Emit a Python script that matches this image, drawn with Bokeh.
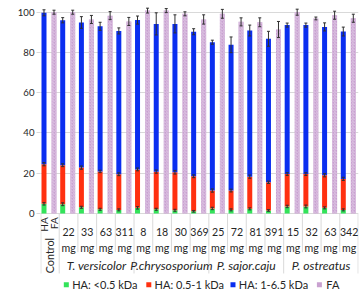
import numpy as np
from bokeh.plotting import figure
from bokeh.models import FixedTicker, Label
from bokeh.core.properties import value
from bokeh.embed import file_html
from bokeh.resources import INLINE

# ---------------- data ----------------
groups = ["Control", "22 mg", "33 mg", "63 mg", "311 mg", "8 mg", "18 mg", "30 mg", "369 mg",
          "25 mg", "72 mg", "81 mg", "391 mg", "15 mg", "32 mg", "63 mg", "342 mg"]
dose_numbers = ["22", "33", "63", "311", "8", "18", "30", "369",
                "25", "72", "81", "391", "15", "32", "63", "342"]
species = ["T. versicolor", "P.chrysosporium", "P. sajor.caju", "P. ostreatus"]
series_names = ["HA: <0.5 kDa", "HA: 0.5-1 kDa", "HA: 1-6.5 kDa", "FA"]

ha_lt05 = [4.8, 4.6, 3.1, 2.1, 1.8, 2.8, 2.1, 1.6, 1.1, 2.5, 1.8, 2.3, 1.5, 3.5, 3.5, 2.8, 1.8]
ha_05_1 = [19.7, 19.4, 19.7, 18.8, 17.7, 19.1, 18.7, 18.9, 17.4, 8.9, 9.6, 16.0, 14.0, 16.1, 16.1, 16.2, 15.4]
ha_1_65 = [75.2, 72.0, 72.1, 72.1, 71.2, 74.2, 73.4, 73.7, 71.8, 73.7, 72.4, 72.6, 71.3, 74.0, 74.0, 73.7, 73.2]
fa = [100.0, 100.0, 96.4, 98.3, 95.4, 100.8, 100.8, 99.2, 96.4, 99.2, 95.2, 95.0, 91.4, 100.0, 96.9, 98.5, 97.0]

err_lt05 = [0.6, 0.7, 0.5, 0.5, 0.5, 0.6, 0.5, 0.5, 0.4, 0.6, 0.5, 0.5, 0.4, 0.6, 0.7, 0.5, 0.5]
err_05_1 = [0.8, 0.7, 0.8, 0.6, 0.7, 0.7, 0.8, 0.9, 0.7, 0.8, 0.7, 0.8, 0.6, 0.7, 0.7, 0.8, 0.8]
err_ha = [1.5, 1.3, 2.9, 2.0, 1.5, 2.0, 5.5, 4.5, 1.5, 1.0, 3.9, 2.7, 3.7, 1.0, 1.0, 2.0, 2.2]
err_fa = [1.0, 1.0, 2.0, 2.0, 2.0, 1.2, 1.0, 1.0, 2.3, 2.2, 2.0, 2.2, 4.0, 1.5, 0.7, 2.0, 2.0]

y_ticks = [0, 20, 40, 60, 80, 100]

# ---------------- styles ----------------
C_GREEN = "#33e35a"
C_RED = "#ff3010"
C_BLUE = "#0a2ef0"
C_PURPLE = "#c9a1d0"
TXT = "#262626"
FONT = "Lato"
SEP = "#d9d9d9"

n = len(groups)
g = np.arange(n)
x_ha = g + 0.187
x_fa = g + 0.722
bw = 0.267

c1 = np.array(ha_lt05)
c2 = c1 + np.array(ha_05_1)
c3 = c2 + np.array(ha_1_65)

p = figure(width=359, height=290, x_range=(0, 17), y_range=(-38.25, 103.33),
           output_backend="svg", toolbar_location=None, x_axis_location=None,
           min_border_left=40, min_border_right=1, min_border_top=5, min_border_bottom=0)
p.outline_line_color = None
p.background_fill_color = "white"
p.border_fill_color = "white"

p.yaxis.ticker = FixedTicker(ticks=y_ticks)
p.yaxis.axis_line_color = None
p.yaxis.major_tick_out = 4
p.yaxis.major_tick_in = 0
p.yaxis.major_tick_line_color = SEP
p.yaxis.minor_tick_line_color = None
p.yaxis.major_label_standoff = 2
p.yaxis.major_label_text_font = FONT
p.yaxis.major_label_text_font_size = "9.6px"
p.yaxis.major_label_text_color = TXT
p.xgrid.visible = False
p.ygrid.grid_line_color = SEP
p.ygrid.grid_line_width = 1

# separators below the axis
sep_long = [0.02, 1, 5, 9, 13, 16.98]
sep_short = [2, 3, 4, 6, 7, 8, 10, 11, 12, 14, 15, 16]
p.segment(x0=sep_long, y0=[0] * len(sep_long), x1=sep_long, y1=[-29.8] * len(sep_long),
          line_color=SEP, line_width=1)
p.segment(x0=sep_short, y0=[0] * len(sep_short), x1=sep_short, y1=[-19.2] * len(sep_short),
          line_color=SEP, line_width=1)

# bars
p.vbar(x=x_ha, bottom=0, top=c1, width=bw, fill_color=C_GREEN, line_color=None)
p.vbar(x=x_ha, bottom=c1, top=c2, width=bw, fill_color=C_RED, line_color=None)
p.vbar(x=x_ha, bottom=c2, top=c3, width=bw, fill_color=C_BLUE, line_color=None)
p.vbar(x=x_fa, bottom=0, top=fa, width=bw, fill_color=C_PURPLE, line_color=None,
       hatch_pattern="/", hatch_color="#dcc2e2", hatch_scale=3, hatch_weight=1)

# error bars
def errbars(xs, tops, errs):
    xs = np.asarray(xs, float)
    tops = np.asarray(tops, float)
    errs = np.asarray(errs, float)
    p.segment(x0=xs, y0=tops - errs, x1=xs, y1=tops + errs, line_color="#303030", line_width=1)
    cw = 0.08
    p.segment(x0=xs - cw, y0=tops - errs, x1=xs + cw, y1=tops - errs, line_color="#303030", line_width=1)
    p.segment(x0=xs - cw, y0=tops + errs, x1=xs + cw, y1=tops + errs, line_color="#303030", line_width=1)

errbars(x_ha, c1, err_lt05)
errbars(x_ha, c2, err_05_1)
errbars(x_ha, c3, err_ha)
errbars(x_fa, fa, err_fa)

# category labels
p.text(x=[0.187, 0.722], y=[-1.8, -1.8], text=["HA", "FA"], angle=np.pi / 2,
       text_align="right", text_baseline="middle", text_font=value(FONT),
       text_font_size="10.2px", text_color=TXT)
p.text(x=[0.5], y=[-20.9], text=["Control"], angle=np.pi / 2,
       text_align="center", text_baseline="middle", text_font=value(FONT),
       text_font_size="10.8px", text_color=TXT)
xd = g[1:] + 0.5
p.text(x=xd, y=[-9.3] * len(xd), text=dose_numbers, text_align="center",
       text_baseline="middle", text_font=value(FONT), text_font_size="10.6px", text_color=TXT)
p.text(x=xd, y=[-17.2] * len(xd), text=["mg"] * len(xd), text_align="center",
       text_baseline="middle", text_font=value(FONT), text_font_size="10.6px", text_color=TXT)
p.text(x=[3, 7, 11, 15], y=[-25.8] * 4, text=species, text_align="center",
       text_baseline="middle", text_font=value(FONT), text_font_style="italic",
       text_font_size="12.2px", text_color=TXT)

# legend
lx = [1.38, 5.79, 10.29, 14.91]
ltx = [1.695, 6.1, 10.6, 15.28]
p.rect(x=lx, y=[-35.4] * 4, width=5, height=5, width_units="screen", height_units="screen",
       fill_color=[C_GREEN, C_RED, C_BLUE, C_PURPLE], line_color=None)
p.text(x=ltx, y=[-35.4] * 4, text=series_names, text_align="left", text_baseline="middle",
       text_font=value(FONT), text_font_size="11px", text_color=TXT)

# y axis title
p.add_layout(Label(x=-1.52, y=50, text="Area under curve (%)", angle=np.pi / 2,
                   text_align="center", text_baseline="middle", text_font=FONT,
                   text_font_size="13.2px", text_color=TXT))

open("out.html", "w").write(file_html(p, INLINE))
